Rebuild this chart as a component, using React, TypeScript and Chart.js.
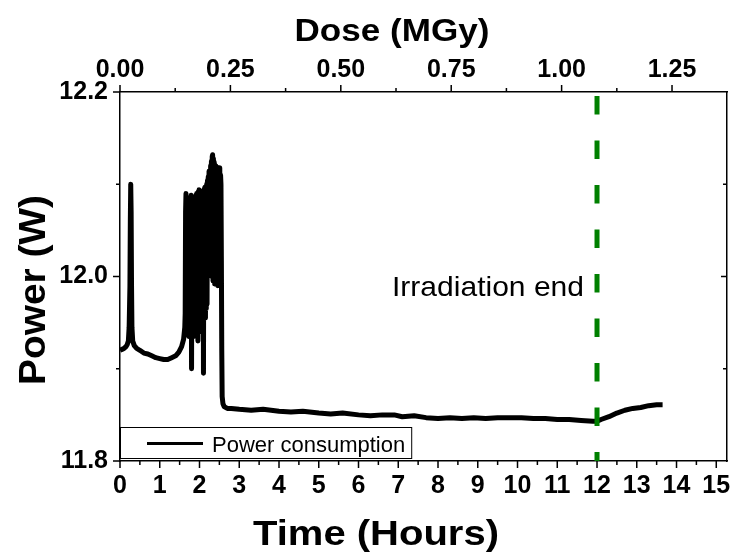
import React, { useEffect, useRef } from 'react';
import { Chart, registerables } from 'chart.js';

Chart.register(...registerables);

// ---------------- data ----------------
const timeHours = [
  0.0, 0.05, 0.1, 0.15, 0.18, 0.21, 0.23, 0.25, 0.26, 0.27, 0.28, 0.29, 0.3, 0.32, 0.36, 0.42, 0.5, 0.6, 0.7, 0.8,
  0.9, 1.0, 1.1, 1.2, 1.3, 1.4, 1.48, 1.55, 1.6, 1.63,
  1.64, 1.65, 1.66, 1.67, 1.68, 1.69, 1.7, 1.71, 1.72, 1.73, 1.74, 1.75, 1.76, 1.77, 1.78, 1.79, 1.8, 1.81, 1.82, 1.83,
  1.84, 1.85, 1.86, 1.87, 1.88, 1.89, 1.9, 1.91, 1.92, 1.93, 1.94, 1.95, 1.96, 1.97, 1.98, 1.99, 2.0, 2.01, 2.02, 2.03,
  2.04, 2.05, 2.06, 2.07, 2.08, 2.09, 2.1, 2.11, 2.12, 2.13, 2.14, 2.15, 2.16, 2.17, 2.18, 2.19, 2.2, 2.21, 2.22, 2.23,
  2.24, 2.25, 2.26, 2.27, 2.28, 2.29, 2.3, 2.31, 2.32, 2.33, 2.34, 2.35, 2.36, 2.37, 2.38, 2.39, 2.4, 2.41, 2.42, 2.43,
  2.44, 2.45, 2.46, 2.47, 2.48, 2.49, 2.5, 2.51, 2.52, 2.53, 2.54, 2.55, 2.56, 2.57, 2.59, 2.62, 2.7,
  2.8, 3.0, 3.3, 3.6, 4.0, 4.3, 4.6, 5.0, 5.3, 5.6, 6.0, 6.3, 6.6, 6.9, 7.1, 7.4, 7.7, 8.0, 8.3, 8.6,
  8.9, 9.2, 9.5, 9.8, 10.1, 10.4, 10.7, 11.0, 11.3, 11.6, 11.9, 12.0, 12.1, 12.3, 12.5, 12.7, 12.9, 13.1, 13.3, 13.5, 13.65,
];
const powerW = [
  11.92, 11.921, 11.922, 11.924, 11.926, 11.93, 11.945, 11.99, 12.06, 12.1, 12.07, 11.99, 11.945, 11.93, 11.925, 11.922, 11.92, 11.917, 11.916, 11.914,
  11.912, 11.911, 11.91, 11.91, 11.912, 11.914, 11.918, 11.924, 11.932, 11.945,
  11.96, 12.07, 12.09, 11.96, 12.08, 11.94, 12.06, 11.95, 12.065, 11.935, 12.075, 11.945, 12.08, 11.96, 12.085, 12.088, 11.9, 12.07, 11.94, 12.08,
  11.95, 12.078, 11.935, 12.085, 11.955, 12.082, 11.94, 12.088, 11.95, 12.09, 11.945, 12.085, 11.93, 12.092, 11.95, 12.094, 11.94, 12.088, 11.955, 12.09,
  11.945, 12.092, 11.96, 12.09, 11.95, 12.085, 11.895, 12.094, 11.96, 12.096, 12.097, 11.955, 12.092, 11.965, 12.1, 11.97, 12.104, 12.03, 12.108, 12.02,
  12.114, 12.025, 12.112, 12.018, 12.12, 12.03, 12.125, 12.0, 12.13, 12.132, 11.995, 12.128, 12.0, 12.124, 11.992, 12.121, 12.0, 12.12, 11.995, 12.115,
  12.0, 12.11, 11.99, 12.118, 12.0, 12.115, 11.995, 12.118, 12.005, 12.11, 12.1, 12.02, 11.92, 11.87, 11.862, 11.859, 11.857,
  11.857, 11.856, 11.855, 11.856, 11.854, 11.853, 11.854, 11.852, 11.851, 11.852, 11.85, 11.849, 11.85, 11.85, 11.848, 11.849, 11.847, 11.846, 11.847, 11.846,
  11.847, 11.846, 11.847, 11.847, 11.847, 11.846, 11.846, 11.845, 11.845, 11.844, 11.843, 11.843, 11.845, 11.848, 11.852, 11.855, 11.857, 11.858, 11.86, 11.861, 11.861,
];
const irradiationEndHour = 12;

const timeTicks = [0, 1, 2, 3, 4, 5, 6, 7, 8, 9, 10, 11, 12, 13, 14, 15];
const doseTicks = [0, 0.25, 0.5, 0.75, 1.0, 1.25];
const powerTicks = [11.8, 12.0, 12.2];

const timeRange = [0, 15.27];
const doseRange = [0, 1.3745];
const powerRange = [11.8, 12.2];

const seriesLabel = 'Power consumption';
const annotationText = 'Irradiation end';
const xTitle = 'Time (Hours)';
const x2Title = 'Dose (MGy)';
const yTitle = 'Power (W)';

// ---------------- styling ----------------
const FONT = "'Liberation Sans', Arial, Helvetica, sans-serif";

function fittedText(
  ctx: CanvasRenderingContext2D,
  text: string,
  x: number,
  y: number,
  font: string,
  targetW: number,
  align: CanvasTextAlign,
  rot = 0
) {
  ctx.save();
  ctx.font = font;
  const w = ctx.measureText(text).width;
  const sx = targetW / w;
  ctx.translate(x, y);
  if (rot) ctx.rotate(rot);
  ctx.scale(sx, 1);
  ctx.textAlign = align;
  ctx.textBaseline = 'alphabetic';
  ctx.fillStyle = '#000';
  ctx.fillText(text, 0, 0);
  ctx.restore();
}

const decorPlugin = {
  id: 'decor',
  afterDraw(chart: any) {
    const ctx: CanvasRenderingContext2D = chart.ctx;
    const { x, x2, y } = chart.scales;
    const area = chart.chartArea;
    ctx.save();
    ctx.strokeStyle = '#000';
    ctx.lineWidth = 1.5;
    ctx.beginPath();
    for (let i = 0; i < timeTicks.length; i++) {
      const v = timeTicks[i];
      const px = x.getPixelForValue(v);
      ctx.moveTo(px, area.bottom);
      ctx.lineTo(px, area.bottom + 7);
      if (i < timeTicks.length - 1) {
        const m = x.getPixelForValue((v + timeTicks[i + 1]) / 2);
        ctx.moveTo(m, area.bottom);
        ctx.lineTo(m, area.bottom + 4);
      }
    }
    for (let i = 0; i < doseTicks.length; i++) {
      const v = doseTicks[i];
      const px = x2.getPixelForValue(v);
      ctx.moveTo(px, area.top);
      ctx.lineTo(px, area.top - 7);
      const next = i < doseTicks.length - 1 ? doseTicks[i + 1] : v + 0.25;
      const mv = (v + next) / 2;
      if (mv <= doseRange[1]) {
        const m = x2.getPixelForValue(mv);
        ctx.moveTo(m, area.top);
        ctx.lineTo(m, area.top - 4);
      }
    }
    for (let i = 0; i < powerTicks.length; i++) {
      const v = powerTicks[i];
      const py = y.getPixelForValue(v);
      ctx.moveTo(area.left, py);
      ctx.lineTo(area.left - 7, py);
      if (i < powerTicks.length - 1) {
        const m = y.getPixelForValue((v + powerTicks[i + 1]) / 2);
        ctx.moveTo(area.left, m);
        ctx.lineTo(area.left - 4, m);
        ctx.moveTo(area.right, m);
        ctx.lineTo(area.right - 4, m);
      }
      if (i > 0 && i < powerTicks.length - 1) {
        ctx.moveTo(area.right, py);
        ctx.lineTo(area.right - 6, py);
      }
    }
    ctx.stroke();

    // legend box
    ctx.font = `22px ${FONT}`;
    const tw = ctx.measureText(seriesLabel).width;
    const bx = area.left;
    const by = 427.5;
    const bw = 212 - bx + tw + 6;
    const bh = 31;
    ctx.fillStyle = '#fff';
    ctx.fillRect(bx, by, bw, bh);
    ctx.lineWidth = 1;
    ctx.strokeRect(bx + 0.5, by, bw, bh);
    ctx.lineWidth = 3;
    ctx.beginPath();
    ctx.moveTo(147, 443.5);
    ctx.lineTo(203, 443.5);
    ctx.stroke();
    ctx.fillStyle = '#000';
    ctx.textAlign = 'left';
    ctx.textBaseline = 'alphabetic';
    ctx.fillText(seriesLabel, 212, 451.5);
    ctx.restore();

    fittedText(ctx, annotationText, 392, 296, `28px ${FONT}`, 192, 'left');
    fittedText(ctx, x2Title, 392, 41, `bold 31px ${FONT}`, 195, 'center');
    fittedText(ctx, xTitle, 376, 545, `bold 35px ${FONT}`, 246, 'center');
    fittedText(ctx, yTitle, 45, 290, `bold 36px ${FONT}`, 190, 'center', -Math.PI / 2);
  },
};

const noPad = (s: any) => {
  s.paddingLeft = 0;
  s.paddingRight = 0;
  s.paddingTop = 0;
  s.paddingBottom = 0;
};

export default function App() {
  const ref = useRef<HTMLCanvasElement | null>(null);
  useEffect(() => {
    if (!ref.current) return;
    const tickFont = { family: FONT, size: 25, weight: 'bold' as const };
    const chart = new Chart(ref.current, {
      type: 'line',
      data: {
        datasets: [
          {
            label: 'end',
            data: [
              { x: irradiationEndHour, y: powerRange[1] },
              { x: irradiationEndHour, y: powerRange[0] },
            ],
            borderColor: '#008000',
            borderWidth: 5,
            borderDash: [18.5, 26],
            borderDashOffset: 40.5,
            borderCapStyle: 'butt',
            pointRadius: 0,
            xAxisID: 'x',
            yAxisID: 'y',
          },
          {
            label: seriesLabel,
            data: timeHours.map((t, i) => ({ x: t, y: powerW[i] })),
            borderColor: '#000',
            borderWidth: 5,
            borderDash: [10000, 0],
            borderJoinStyle: 'round',
            pointRadius: 0,
            tension: 0,
            xAxisID: 'x',
            yAxisID: 'y',
          },
        ],
      },
      options: {
        responsive: false,
        animation: false,
        devicePixelRatio: 1,
        layout: { padding: 0 },
        plugins: { legend: { display: false }, tooltip: { enabled: false } },
        scales: {
          x: {
            type: 'linear',
            position: 'bottom',
            min: timeRange[0],
            max: timeRange[1],
            afterBuildTicks: (s: any) => {
              s.ticks = timeTicks.map((v) => ({ value: v }));
            },
            afterFit: (s: any) => {
              s.height = 95;
              noPad(s);
            },
            ticks: {
              color: '#000',
              font: tickFont,
              padding: 10,
              maxRotation: 0,
              autoSkip: false,
              callback: (v: any) => String(v),
            },
            grid: { display: false, drawTicks: false },
            border: { display: true, color: '#000', width: 1.5 },
          },
          x2: {
            type: 'linear',
            position: 'top',
            min: doseRange[0],
            max: doseRange[1],
            afterBuildTicks: (s: any) => {
              s.ticks = doseTicks.map((v) => ({ value: v }));
            },
            afterFit: (s: any) => {
              s.height = 92;
              noPad(s);
            },
            ticks: {
              color: '#000',
              font: tickFont,
              padding: 7,
              maxRotation: 0,
              autoSkip: false,
              callback: (v: any) => Number(v).toFixed(2),
            },
            grid: { display: false, drawTicks: false },
            border: { display: true, color: '#000', width: 1.5 },
          },
          y: {
            type: 'linear',
            position: 'left',
            min: powerRange[0],
            max: powerRange[1],
            afterBuildTicks: (s: any) => {
              s.ticks = powerTicks.map((v) => ({ value: v }));
            },
            afterFit: (s: any) => {
              s.width = 120;
              noPad(s);
            },
            ticks: {
              color: '#000',
              font: tickFont,
              padding: 12,
              autoSkip: false,
              callback: (v: any) => Number(v).toFixed(1),
            },
            grid: { display: false, drawTicks: false },
            border: { display: true, color: '#000', width: 1.5 },
          },
          y2: {
            type: 'linear',
            position: 'right',
            min: powerRange[0],
            max: powerRange[1],
            afterFit: (s: any) => {
              s.width = 6;
              noPad(s);
            },
            ticks: { display: false },
            grid: { display: false, drawTicks: false },
            border: { display: true, color: '#000', width: 1.5 },
          },
        },
      },
      plugins: [decorPlugin],
    } as any);
    return () => chart.destroy();
  }, []);

  return (
    <div style={{ position: 'absolute', left: 0, top: 0, width: 733, height: 556, background: '#fff' }}>
      <canvas ref={ref} width={733} height={556} style={{ display: 'block', width: 733, height: 556 }} />
    </div>
  );
}
